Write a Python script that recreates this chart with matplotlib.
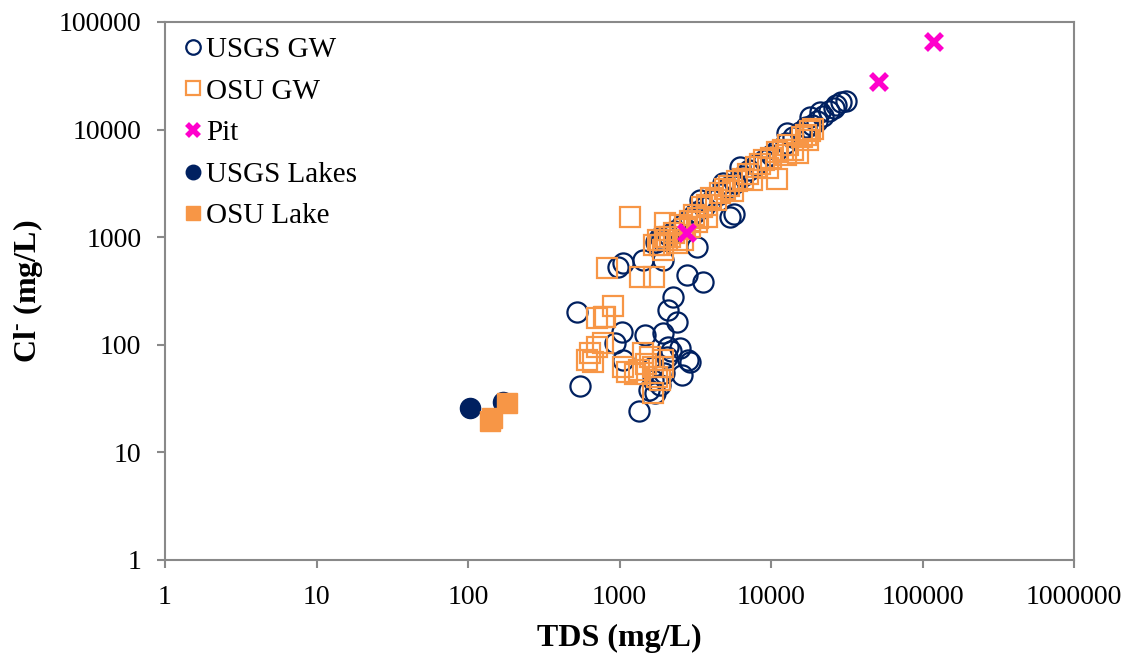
import matplotlib
matplotlib.use("Agg")
from matplotlib import pyplot as plt
from matplotlib.ticker import FixedLocator, FixedFormatter, NullLocator

plt.rcParams['font.family'] = ['Liberation Serif', 'DejaVu Serif']
plt.rcParams['mathtext.fontset'] = 'custom'
plt.rcParams['mathtext.rm'] = 'Liberation Serif'
plt.rcParams['mathtext.bf'] = 'Liberation Serif:bold'

# data (TDS, Cl-) in mg/L
usgs_gw_tds = [525, 548, 977, 1055, 1430, 1936, 2790, 3560, 2255, 2090, 2400, 1040, 933,
               1473, 1936, 2090, 1344, 1055, 1663, 2507, 2918, 2586, 1714, 1663, 2060,
               2850, 1850, 1560, 1950, 2200,
               3250, 1850, 5370, 5700, 3400,
               31000, 29000, 26000, 24000, 22000, 20000, 18500, 17000, 15500, 14000,
               12500, 11000, 10000, 9000, 8000, 7200, 6500, 5800, 5200, 4600, 4100,
               3600, 3200, 2900, 2600, 2300, 2100, 1900, 1750,
               6240, 4820, 12760, 18100, 21000, 27000]
usgs_gw_cl = [202, 41, 528, 575, 614, 614, 445, 384, 278, 211, 163, 131, 104,
              123, 129, 95, 24, 72, 62, 93, 69, 52, 36, 47, 77,
              72, 42, 38, 55, 88,
              810, 1000, 1550, 1650, 2220,
              18500, 18000, 16000, 15000, 13500, 12000, 11000, 10500, 9500, 8500,
              7500, 6500, 5800, 5200, 4700, 4200, 3700, 3200, 2900, 2500, 2200,
              1900, 1700, 1500, 1300, 1150, 1050, 950, 900,
              4490, 3190, 9300, 13100, 14600, 17000]

osu_gw_tds = [710, 800, 1173, 825, 1366, 1680, 906, 790, 638, 710, 780, 668, 610,
              1122, 1430, 1663, 1770, 1663, 1260, 1936, 1850, 1600, 1055, 1936, 1500, 1350,
              1995, 1850, 2060, 2140, 1936, 2400, 2640, 2918, 3250, 3750,
              1700, 1800, 2000, 2300, 2500, 2700, 2900, 3100, 3300, 3500, 3800, 4000,
              4300, 4600, 5000, 5300, 5600, 6000, 6500, 7000, 7500, 8000, 8500, 9000,
              9500, 10000, 11000, 11000, 12000, 12500, 13000, 14000, 15000, 16000,
              17000, 18000, 19000, 17500]
osu_gw_cl = [177, 180, 1540, 517, 427, 427, 229, 181, 84, 95, 104, 69, 72,
             56, 84, 62, 50, 36, 54, 72, 47, 77, 62, 62, 66, 58,
             1355, 847, 940, 1000, 760, 885, 940, 1240, 1380, 1530,
             850, 950, 1000, 1100, 1300, 1200, 1400, 1600, 1500, 1900, 2000, 2300,
             2200, 2600, 2800, 3000, 2700, 3300, 3500, 3900, 3400, 4500, 4800, 5200,
             4400, 5500, 3500, 6200, 6500, 5800, 7200, 6500, 6000, 8500,
             9000, 9800, 10200, 8000]

pit_tds = [119000, 51600, 2790]
pit_cl = [65200, 27700, 1094]

usgs_lake_tds = [103, 170]
usgs_lake_cl = [25.9, 29.4]

osu_lake_tds = [144, 181, 140]
osu_lake_cl = [20.9, 28.8, 19.5]

navy = '#002060'
orange = '#F79646'
pink = '#FF00CC'

fig = plt.figure(figsize=(11.39, 6.62), dpi=100)
ax = fig.add_axes([0.1449, 0.1541, 0.7981, 0.8127])

ax.plot(usgs_gw_tds, usgs_gw_cl, 'o', ms=14.5, mfc='none', mec=navy, mew=1.6, label='USGS GW')
ax.plot(osu_gw_tds, osu_gw_cl, 's', ms=14, mfc='none', mec=orange, mew=1.6, label='OSU GW')
ax.plot(pit_tds, pit_cl, 'x', ms=12, mec=pink, mew=4, label='Pit')
ax.plot(usgs_lake_tds, usgs_lake_cl, 'o', ms=14.5, mfc=navy, mec=navy, label='USGS Lakes')
ax.plot(osu_lake_tds, osu_lake_cl, 's', ms=14.5, mfc=orange, mec=orange, label='OSU Lake')

ax.set_xscale('log')
ax.set_yscale('log')
ax.set_xlim(1, 1000000)
ax.set_ylim(1, 100000)

xt = [1, 10, 100, 1000, 10000, 100000, 1000000]
yt = [1, 10, 100, 1000, 10000, 100000]
ax.xaxis.set_major_locator(FixedLocator(xt))
ax.xaxis.set_major_formatter(FixedFormatter([str(v) for v in xt]))
ax.yaxis.set_major_locator(FixedLocator(yt))
ax.yaxis.set_major_formatter(FixedFormatter([str(v) for v in yt]))
ax.xaxis.set_minor_locator(NullLocator())
ax.yaxis.set_minor_locator(NullLocator())

for s in ax.spines.values():
    s.set_color('#898989')
    s.set_linewidth(1.5)
ax.tick_params(axis='both', which='major', direction='out', length=6, width=1.5,
               color='#898989', labelsize=20)
ax.tick_params(axis='x', pad=12)
ax.tick_params(axis='y', pad=11)

ax.set_xlabel('TDS (mg/L)', fontsize=23, fontweight='bold', labelpad=10)
ax.set_ylabel(r'Cl$^{\mathbf{\text{-}}}$ (mg/L)', fontsize=23, fontweight='bold', labelpad=10)

leg = ax.legend(loc='upper left', frameon=False, fontsize=21, handletextpad=0.0,
                handlelength=0.9, labelspacing=0.52, borderaxespad=0.2, borderpad=0.3,
                markerscale=0.72)

fig.savefig('out.png', dpi=100)
